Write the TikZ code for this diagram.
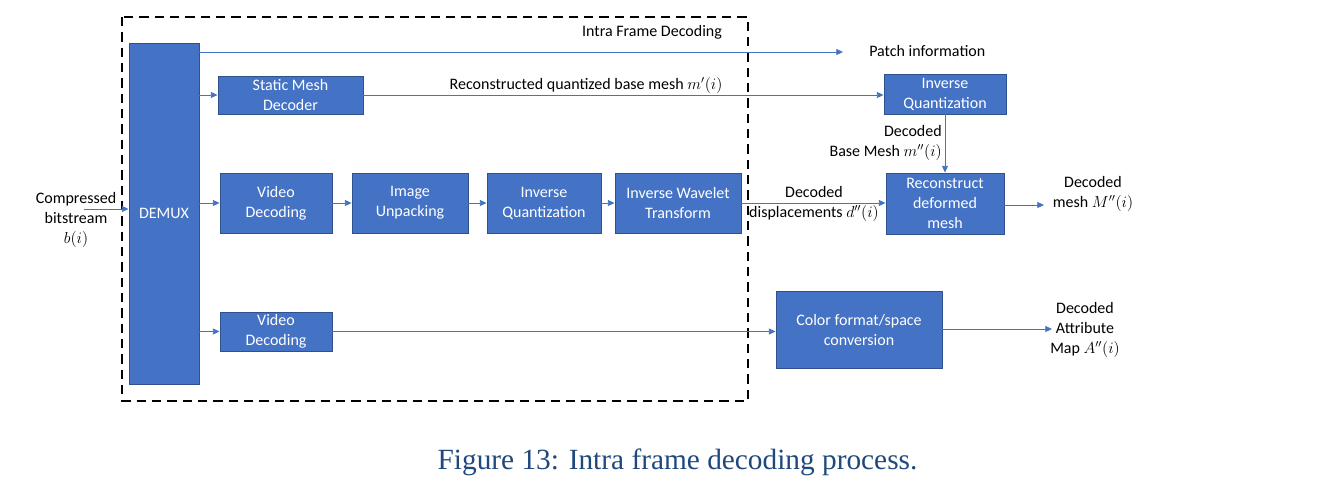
\documentclass[tikz,border=0pt]{standalone}
\usepackage{fontspec}
\setmainfont{Carlito}
\newfontfamily\capfont{Liberation Serif}
\usetikzlibrary{arrows.meta}
\definecolor{boxblue}{HTML}{4472C4}
\definecolor{boxedge}{HTML}{2F528F}
\definecolor{linkblue}{HTML}{4472C4}
\definecolor{capblue}{HTML}{1F497D}
\tikzset{
  bx/.style={draw=boxedge, line width=0.7pt, fill=boxblue, text=white, align=center,
    inner sep=0pt, font=\fontsize{12}{15}\selectfont},
  lbl/.style={align=center, inner sep=0pt, font=\fontsize{12}{15}\selectfont, text=black},
  link/.style={draw=linkblue, line width=0.6pt, -{Triangle[length=5pt,width=4.5pt]}},
  plain/.style={draw=linkblue, line width=0.6pt},
}
\begin{document}
\begin{tikzpicture}[x=0.75pt,y=-0.75pt]
\useasboundingbox (0,0) rectangle (1321,497);
% dashed frame
\draw[line width=1.8pt, dash pattern=on 7pt off 4.5pt] (122,17) rectangle (748,401);
\node[lbl, anchor=base] (ifd) at (652,36) {Intra Frame Decoding};
% boxes
\node[bx, minimum width={70*0.75pt}, minimum height={341*0.75pt}] (demux) at (164,213.5) {DEMUX};
\node[bx, minimum width={145*0.75pt}, minimum height={38*0.75pt}] (smd) at (290.5,95) {Static Mesh\\Decoder};
\node[bx, minimum width={112*0.75pt}, minimum height={60*0.75pt}] (vd1) at (276,203) {Video\\Decoding};
\node[bx, minimum width={116*0.75pt}, minimum height={60*0.75pt}] (iu) at (410,203) {Image\\Unpacking};
\node[bx, minimum width={114*0.75pt}, minimum height={60*0.75pt}] (iq1) at (544,203) {Inverse\\Quantization};
\node[bx, minimum width={126*0.75pt}, minimum height={60*0.75pt}] (iwt) at (678,203) {Inverse Wavelet\\Transform};
\node[bx, minimum width={122*0.75pt}, minimum height={40*0.75pt}] (iq2) at (945,94) {Inverse\\Quantization};
\node[bx, minimum width={118*0.75pt}, minimum height={61*0.75pt}] (rec) at (945,203.5) {Reconstruct\\deformed\\mesh};
\node[bx, minimum width={112*0.75pt}, minimum height={39*0.75pt}] (vd2) at (276,331.5) {Video\\Decoding};
\node[bx, minimum width={166*0.75pt}, minimum height={77*0.75pt}] (col) at (859,329.5) {Color format/space\\conversion};
% labels
\node[lbl] (cb) at (76,220) {Compressed\\bitstream\\$b(i)$};
\node[lbl, anchor=west] (patch) at (869,51) {Patch information};
\node[lbl] (rqb) at (586,85) {Reconstructed quantized base mesh $m'(i)$};
\node[lbl, align=right, anchor=east] (dbm) at (942,143) {Decoded\\Base Mesh $m''(i)$};
\node[lbl] (dd) at (814,204) {Decoded\\displacements $d''(i)$};
\node[lbl] (dm) at (1093,194) {Decoded\\mesh $M''(i)$};
\node[lbl] (dam) at (1085,330) {Decoded\\Attribute\\Map $A''(i)$};
% free ends
\coordinate (cbs) at (84,209);
\coordinate (pend) at (843,52);
\coordinate (mend) at (1044,205);
\coordinate (aend) at (1052,329);
% connectors
\draw[link] (cbs) -- (cbs -| demux.west);
\draw[link] (pend -| demux.east) -- (pend);
\draw[link] (demux.east |- smd) -- (smd.west);
\draw[link] (demux.east |- vd1) -- (vd1.west);
\draw[link] (demux.east |- vd2) -- (vd2.west);
\draw[link] (vd1) -- (iu);
\draw[link] (iu) -- (iq1);
\draw[link] (iq1) -- (iwt);
\draw[link] (iwt.east) -- (iwt.east -| rec.west);
\draw[link] (smd.east) -- (smd.east -| iq2.west);
\draw[link] (iq2) -- (rec);
\draw[link] (rec.east |- mend) -- (mend);
\draw[link] (vd2.east) -- (vd2.east -| col.west);
\draw[link] (col.east |- aend) -- (aend);
% caption
\node[anchor=base, inner sep=0pt, text=capblue, font=\capfont\fontsize{22}{26}\selectfont] (cap) at (677.5,469) {Figure 13: Intra frame decoding process.};
\end{tikzpicture}
\end{document}
